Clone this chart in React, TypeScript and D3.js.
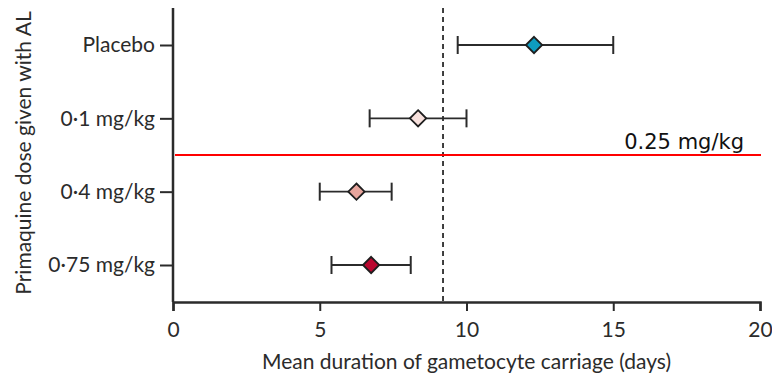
import React, { useEffect, useRef } from "react";
import * as d3 from "d3";

const groups = ["Placebo", "0·1 mg/kg", "0·4 mg/kg", "0·75 mg/kg"];
const means = [12.3, 8.35, 6.25, 6.75];
const lows = [9.7, 6.7, 5.0, 5.4];
const highs = [15.0, 10.0, 7.45, 8.1];
const colors = ["#0e9cc0", "#f8e1dd", "#e7a59d", "#b9072f"];
const xTicks = [0, 5, 10, 15, 20];
const refLine = 9.2;

const App = () => {
  const svgRef = useRef<SVGSVGElement>(null);

  useEffect(() => {
    const svg = d3.select(svgRef.current);
    svg.selectAll("*").remove();

    const width = 772, height = 375;
    const margin = { top: 8, right: 12, bottom: 73, left: 173 };
    const font = "Lato, 'Open Sans', sans-serif";
    const ink = "#2b2b2b";
    const fs = 21;

    const x = d3.scaleLinear()
      .domain([0, 20])
      .range([margin.left, width - margin.right]);

    const y = d3.scalePoint()
      .domain(groups)
      .range([45, 265]);

    const xAxis = svg.append("g")
      .attr("transform", `translate(0,${height - margin.bottom})`)
      .call(d3.axisBottom(x).tickValues(xTicks).tickSize(9).tickPadding(11));
    xAxis.select(".domain").attr("stroke", ink).attr("stroke-width", 2.5);
    xAxis.selectAll("line").attr("stroke", ink).attr("stroke-width", 2);
    xAxis.selectAll("text")
      .attr("font-family", font).attr("font-size", fs).attr("fill", ink);

    const yAxis = svg.append("g")
      .attr("transform", `translate(${margin.left},0)`)
      .call(d3.axisLeft(y).tickSize(13).tickPadding(5));
    yAxis.select(".domain")
      .attr("d", `M0,${margin.top}V${height - margin.bottom}`)
      .attr("stroke", ink).attr("stroke-width", 2.5);
    yAxis.selectAll("line").attr("stroke", ink).attr("stroke-width", 2);
    yAxis.selectAll("text")
      .attr("font-family", font).attr("font-size", fs).attr("fill", ink);

    // reference dashed line
    svg.append("line")
      .attr("x1", x(refLine)).attr("x2", x(refLine))
      .attr("y1", margin.top).attr("y2", height - margin.bottom)
      .attr("stroke", ink).attr("stroke-width", 1.8)
      .attr("stroke-dasharray", "5,4");

    // error bars
    const rows = groups.map((g, i) => ({ g, m: means[i], lo: lows[i], hi: highs[i], c: colors[i] }));
    const bars = svg.selectAll(".row").data(rows).enter().append("g");
    bars.append("line")
      .attr("x1", d => x(d.lo)).attr("x2", d => x(d.hi))
      .attr("y1", d => y(d.g)!).attr("y2", d => y(d.g)!)
      .attr("stroke", ink).attr("stroke-width", 1.8);
    bars.append("line")
      .attr("x1", d => x(d.lo)).attr("x2", d => x(d.lo))
      .attr("y1", d => y(d.g)! - 9).attr("y2", d => y(d.g)! + 9)
      .attr("stroke", ink).attr("stroke-width", 2);
    bars.append("line")
      .attr("x1", d => x(d.hi)).attr("x2", d => x(d.hi))
      .attr("y1", d => y(d.g)! - 9).attr("y2", d => y(d.g)! + 9)
      .attr("stroke", ink).attr("stroke-width", 2);
    bars.append("path")
      .attr("d", d3.symbol().type(d3.symbolDiamond2).size(170)())
      .attr("transform", d => `translate(${x(d.m)},${y(d.g)})`)
      .attr("fill", d => d.c)
      .attr("stroke", "#1e1e1e").attr("stroke-width", 1.8);

    // red line with label
    svg.append("line")
      .attr("x1", margin.left + 2).attr("x2", width - 11)
      .attr("y1", 155).attr("y2", 155)
      .attr("stroke", "#ff0000").attr("stroke-width", 2);
    svg.append("text")
      .attr("x", 744).attr("y", 149)
      .attr("text-anchor", "end")
      .attr("font-family", "'DejaVu Sans', sans-serif")
      .attr("font-size", 21).attr("fill", "#111")
      .text("0.25 mg/kg");

    // axis titles
    svg.append("text")
      .attr("x", (x(0) + x(20)) / 2).attr("y", 369)
      .attr("text-anchor", "middle")
      .attr("font-family", font).attr("font-size", fs).attr("fill", ink)
      .text("Mean duration of gametocyte carriage (days)");
    svg.append("text")
      .attr("transform", `translate(31,${(margin.top + height - margin.bottom) / 2 - 2}) rotate(-90)`)
      .attr("text-anchor", "middle")
      .attr("font-family", font).attr("font-size", fs).attr("fill", ink)
      .text("Primaquine dose given with AL");
  }, []);

  return <svg ref={svgRef} width={772} height={375} style={{ position: "absolute", left: 0, top: 0 }}></svg>;
};

export default App;
